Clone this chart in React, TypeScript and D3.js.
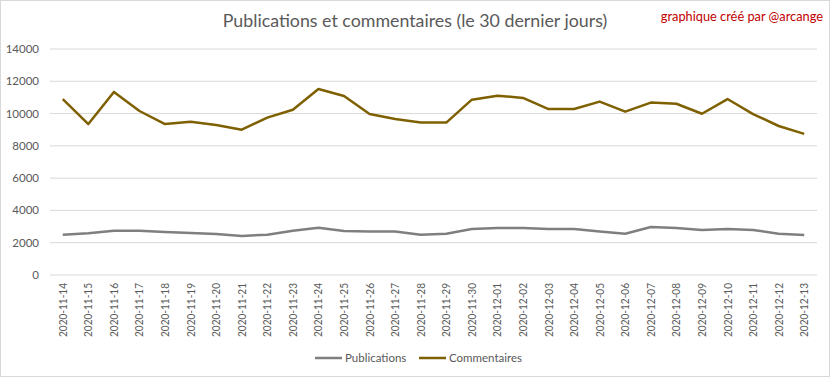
import React from "react";
import * as d3 from "d3";

const dates = [
  "2020-11-14","2020-11-15","2020-11-16","2020-11-17","2020-11-18","2020-11-19","2020-11-20",
  "2020-11-21","2020-11-22","2020-11-23","2020-11-24","2020-11-25","2020-11-26","2020-11-27",
  "2020-11-28","2020-11-29","2020-11-30","2020-12-01","2020-12-02","2020-12-03","2020-12-04",
  "2020-12-05","2020-12-06","2020-12-07","2020-12-08","2020-12-09","2020-12-10","2020-12-11",
  "2020-12-12","2020-12-13",
];
const publications = [
  2500, 2580, 2740, 2740, 2660, 2600, 2540, 2420, 2500, 2740, 2930, 2730, 2690, 2690, 2500,
  2560, 2850, 2910, 2910, 2850, 2850, 2690, 2560, 2970, 2910, 2790, 2850, 2790, 2560, 2480,
];
const commentaires = [
  10900, 9350, 11340, 10160, 9350, 9500, 9290, 9000, 9750, 10240, 11520, 11090, 9970, 9660, 9440,
  9440, 10860, 11110, 10970, 10280, 10280, 10740, 10120, 10680, 10610, 9990, 10900, 9970, 9230, 8740,
];
const yTicks = [0, 2000, 4000, 6000, 8000, 10000, 12000, 14000];

const W = 832, H = 378;
const left = 50, right = 817, top = 49, bottom = 275;
const font = "Lato, 'Open Sans', sans-serif";

export default function App() {
  const x = d3.scaleBand<string>().domain(dates).range([left, right]);
  const y = d3.scaleLinear().domain([0, 14000]).range([bottom, top]);
  const cx = (d: string) => (x(d) as number) + x.bandwidth() / 2;
  const line = d3.line<number>().x((_, i) => cx(dates[i])).y((v) => y(v));

  return (
    <svg width={W} height={H} style={{ position: "absolute", left: 0, top: 0, background: "#fff" }}>
      <rect x={0.5} y={0.5} width={829} height={376} fill="#fff" stroke="#d9d9d9" />
      <text x={415} y={27} textAnchor="middle" fontFamily={font} fontSize={17.8} fill="#595959">
        Publications et commentaires (le 30 dernier jours)
      </text>
      <text x={823} y={21} textAnchor="end" fontFamily={font} fontSize={12.8} fill="#c00000">
        graphique créé par @arcange
      </text>
      {yTicks.map((t) => (
        <g key={t}>
          <line x1={left} x2={right} y1={y(t)} y2={y(t)} stroke="#d9d9d9" strokeWidth={1} />
          <text x={39} y={y(t) + 4} textAnchor="end" fontFamily={font} fontSize={11.5} fill="#595959">
            {t}
          </text>
        </g>
      ))}
      {dates.map((d) => (
        <text
          key={d}
          transform={`translate(${cx(d) + 4},${283}) rotate(-90)`}
          textAnchor="end"
          fontFamily={font}
          fontSize={11}
          textLength={54}
          lengthAdjust="spacingAndGlyphs"
          fill="#595959"
        >
          {d}
        </text>
      ))}
      <path d={line(publications) || ""} fill="none" stroke="#7f7f7f" strokeWidth={2.5} strokeLinejoin="round" />
      <path d={line(commentaires) || ""} fill="none" stroke="#7f6000" strokeWidth={2.5} strokeLinejoin="round" />
      <line x1={315} x2={342} y1={358} y2={358} stroke="#7f7f7f" strokeWidth={2.5} />
      <text x={345} y={362} fontFamily={font} fontSize={11.5} fill="#595959">Publications</text>
      <line x1={419} x2={446} y1={358} y2={358} stroke="#7f6000" strokeWidth={2.5} />
      <text x={449} y={362} fontFamily={font} fontSize={11.5} fill="#595959">Commentaires</text>
    </svg>
  );
}
